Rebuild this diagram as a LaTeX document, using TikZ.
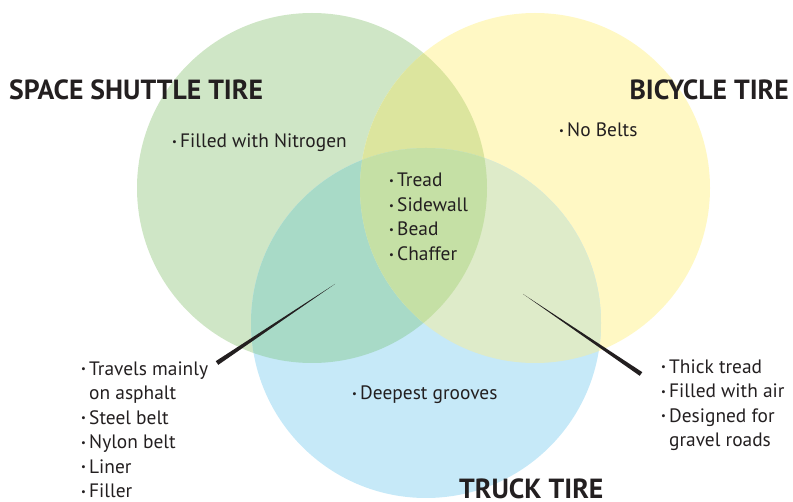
\documentclass[tikz,border=0pt]{standalone}
\usepackage{fontspec}
\usepackage{graphicx}
\setmainfont{PT Sans}
\usetikzlibrary{calc}
\definecolor{txt}{HTML}{231F20}
\definecolor{cG}{HTML}{CFE6C6}
\definecolor{cY}{HTML}{FFF8C4}
\definecolor{cB}{HTML}{C6E9F8}
\definecolor{cGY}{HTML}{DCE59E}
\definecolor{cGB}{HTML}{A8DAC7}
\definecolor{cYB}{HTML}{DEEBC9}
\definecolor{cGYB}{HTML}{C5E0A5}
\newcommand\bl{\makebox[8pt][l]{\raisebox{0.22ex}{\scalebox{0.55}{\textbullet}}}}
\newcommand\ind{\hspace*{8pt}}
\begin{document}
\begin{tikzpicture}[x=1pt,y=-1pt,
  item/.style={anchor=base west, inner sep=0pt, text=txt, align=left,
    font=\fontsize{19.4}{24.5}\selectfont},
  head/.style={inner sep=0pt, text=txt, font=\fontsize{27.7}{27.7}\selectfont\bfseries},
  pointer/.style={fill=txt, draw=none}]
\useasboundingbox (0,0) rectangle (793,502);
% circles
\def\G{(312,188) circle (175)}
\def\Y{(535,188) circle (175)}
\def\B{(426,323) circle (175)}
\fill[cG] \G;
\fill[cY] \Y;
\fill[cB] \B;
\begin{scope}\clip \G; \fill[cGY] \Y; \end{scope}
\begin{scope}\clip \G; \fill[cGB] \B; \end{scope}
\begin{scope}\clip \Y; \fill[cYB] \B; \end{scope}
\begin{scope}\clip \G; \clip \Y; \fill[cGYB] \B; \end{scope}
% headings
\node[head, anchor=base west] (hS) at (9,100) {SPACE SHUTTLE TIRE};
\node[head, anchor=base east] (hB) at (789,100) {BICYCLE TIRE};
\node[head, anchor=base west] (hT) at (459,499) {TRUCK TIRE};
% items (multi-line nodes are placed by the baseline of their last line)
\node[item] (tS) at (172,148) {\bl Filled with Nitrogen};
\node[item] (tB) at (559,137) {\bl No Belts};
\node[item] (tC) at (389,260.5) {\bl Tread\\\bl Sidewall\\\bl Bead\\\bl Chaffer};
\node[item] (tT) at (352,400) {\bl Deepest grooves};
\node[item] (tL) at (81,497.5) {\bl Travels mainly\\\ind on asphalt\\\bl Steel belt\\\bl Nylon belt\\\bl Liner\\\bl Filler};
\node[item] (tR) at (661,446.5) {\bl Thick tread\\\bl Filled with air\\\bl Designed for\\\ind gravel roads};
% pointers
\coordinate (pLa) at (335,284);
\coordinate (pLb) at (217,363);
\coordinate (pRa) at (523,294);
\coordinate (pRb) at (641,374);
\fill[pointer] (pLa) -- ($(pLb)+(1.25,1.85)$) -- ($(pLb)-(1.25,1.85)$) -- cycle;
\fill[pointer] (pRa) -- ($(pRb)+(-1.25,1.85)$) -- ($(pRb)-(-1.25,1.85)$) -- cycle;
\end{tikzpicture}
\end{document}
